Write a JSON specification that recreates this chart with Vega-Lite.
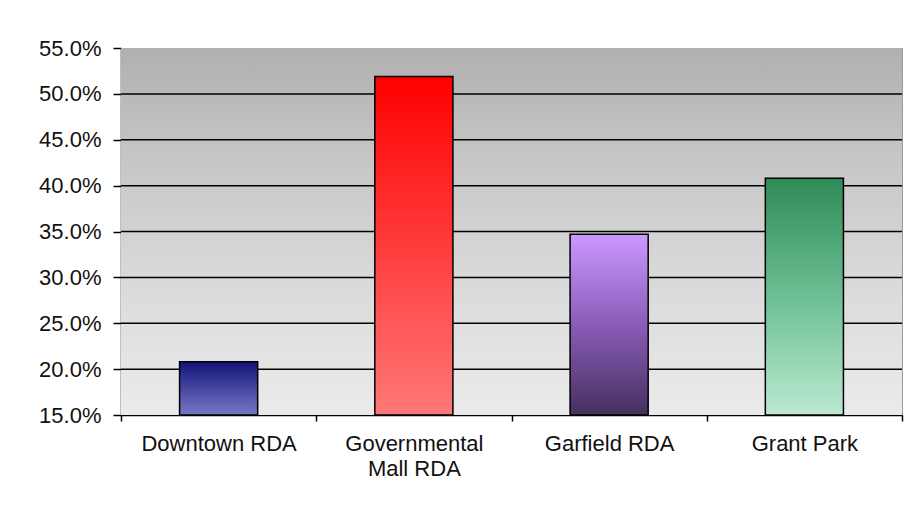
{
  "$schema": "https://vega.github.io/schema/vega-lite/v6.json",
  "width": 781,
  "height": 367,
  "autosize": {"type": "none"},
  "padding": {"left": 121, "top": 48, "right": 5, "bottom": 96},
  "background": "white",
  "config": {
    "view": {"stroke": "#9a9a9a", "strokeWidth": 1},
    "axis": {
      "labelFont": "Liberation Sans",
      "labelFontSize": 22,
      "labelColor": "#111111",
      "domainColor": "#000000",
      "domainWidth": 1.5,
      "tickColor": "#000000",
      "tickWidth": 1.5,
      "grid": false,
      "title": null
    }
  },
  "data": {
    "values": [
      {"area": "Downtown RDA", "pct": 0.208},
      {"area": "Governmental Mall RDA", "pct": 0.519},
      {"area": "Garfield RDA", "pct": 0.347},
      {"area": "Grant Park", "pct": 0.408}
    ]
  },
  "encoding": {
    "x": {
      "field": "area",
      "type": "nominal",
      "sort": null,
      "scale": {"domain": ["Downtown RDA", "Governmental Mall RDA", "Garfield RDA", "Grant Park"], "paddingInner": 0, "paddingOuter": 0},
      "axis": {
        "labelAngle": 0,
        "tickBand": "extent",
        "tickSize": 6,
        "labelPadding": 12,
        "labelLineHeight": 25,
        "labelExpr": "datum.value == 'Governmental Mall RDA' ? ['Governmental', 'Mall RDA'] : datum.value"
      }
    }
  },
  "layer": [
    {
      "data": {"values": [{"bg": 1}]},
      "mark": {
        "type": "rect",
        "fill": {
          "gradient": "linear",
          "x1": 0, "y1": 0, "x2": 0, "y2": 1,
          "stops": [
            {"offset": 0, "color": "#b0b0b0"},
            {"offset": 0.3, "color": "#c6c6c6"},
            {"offset": 0.6, "color": "#d8d8d8"},
            {"offset": 1, "color": "#ebebeb"}
          ]
        }
      },
      "encoding": {"x": null}
    },
    {
      "data": {"values": [{"g": 0.2}, {"g": 0.25}, {"g": 0.3}, {"g": 0.35}, {"g": 0.4}, {"g": 0.45}, {"g": 0.5}]},
      "mark": {"type": "rule", "color": "#000000", "strokeWidth": 1.5},
      "encoding": {
        "x": null,
        "y": {"field": "g", "type": "quantitative", "scale": {"domain": [0.15, 0.55], "nice": false, "zero": false}}
      }
    },
    {
      "transform": [{"filter": "datum.area == 'Downtown RDA'"}],
      "mark": {
        "type": "bar", "width": {"band": 0.4}, "stroke": "#000000", "strokeWidth": 1.5,
        "fill": {"gradient": "linear", "x1": 0, "y1": 0, "x2": 0, "y2": 1,
          "stops": [{"offset": 0, "color": "#14147a"}, {"offset": 1, "color": "#7878c8"}]}
      },
      "encoding": {
        "y": {"field": "pct", "type": "quantitative"},
        "y2": {"datum": 0.15}
      }
    },
    {
      "transform": [{"filter": "datum.area == 'Governmental Mall RDA'"}],
      "mark": {
        "type": "bar", "width": {"band": 0.4}, "stroke": "#000000", "strokeWidth": 1.5,
        "fill": {"gradient": "linear", "x1": 0, "y1": 0, "x2": 0, "y2": 1,
          "stops": [{"offset": 0, "color": "#ff0000"}, {"offset": 1, "color": "#ff7878"}]}
      },
      "encoding": {
        "y": {"field": "pct", "type": "quantitative"},
        "y2": {"datum": 0.15}
      }
    },
    {
      "transform": [{"filter": "datum.area == 'Garfield RDA'"}],
      "mark": {
        "type": "bar", "width": {"band": 0.4}, "stroke": "#000000", "strokeWidth": 1.5,
        "fill": {"gradient": "linear", "x1": 0, "y1": 0, "x2": 0, "y2": 1,
          "stops": [{"offset": 0, "color": "#cc99ff"}, {"offset": 0.5, "color": "#8a5cb8"}, {"offset": 1, "color": "#46305e"}]}
      },
      "encoding": {
        "y": {"field": "pct", "type": "quantitative"},
        "y2": {"datum": 0.15}
      }
    },
    {
      "transform": [{"filter": "datum.area == 'Grant Park'"}],
      "mark": {
        "type": "bar", "width": {"band": 0.4}, "stroke": "#000000", "strokeWidth": 1.5,
        "fill": {"gradient": "linear", "x1": 0, "y1": 0, "x2": 0, "y2": 1,
          "stops": [{"offset": 0, "color": "#2e8b57"}, {"offset": 0.5, "color": "#6cbf94"}, {"offset": 1, "color": "#bce8d0"}]}
      },
      "encoding": {
        "y": {
          "field": "pct", "type": "quantitative",
          "axis": {"format": ".1%", "values": [0.15, 0.2, 0.25, 0.3, 0.35, 0.4, 0.45, 0.5, 0.55], "tickSize": 8, "labelPadding": 12}
        },
        "y2": {"datum": 0.15}
      }
    }
  ]
}
